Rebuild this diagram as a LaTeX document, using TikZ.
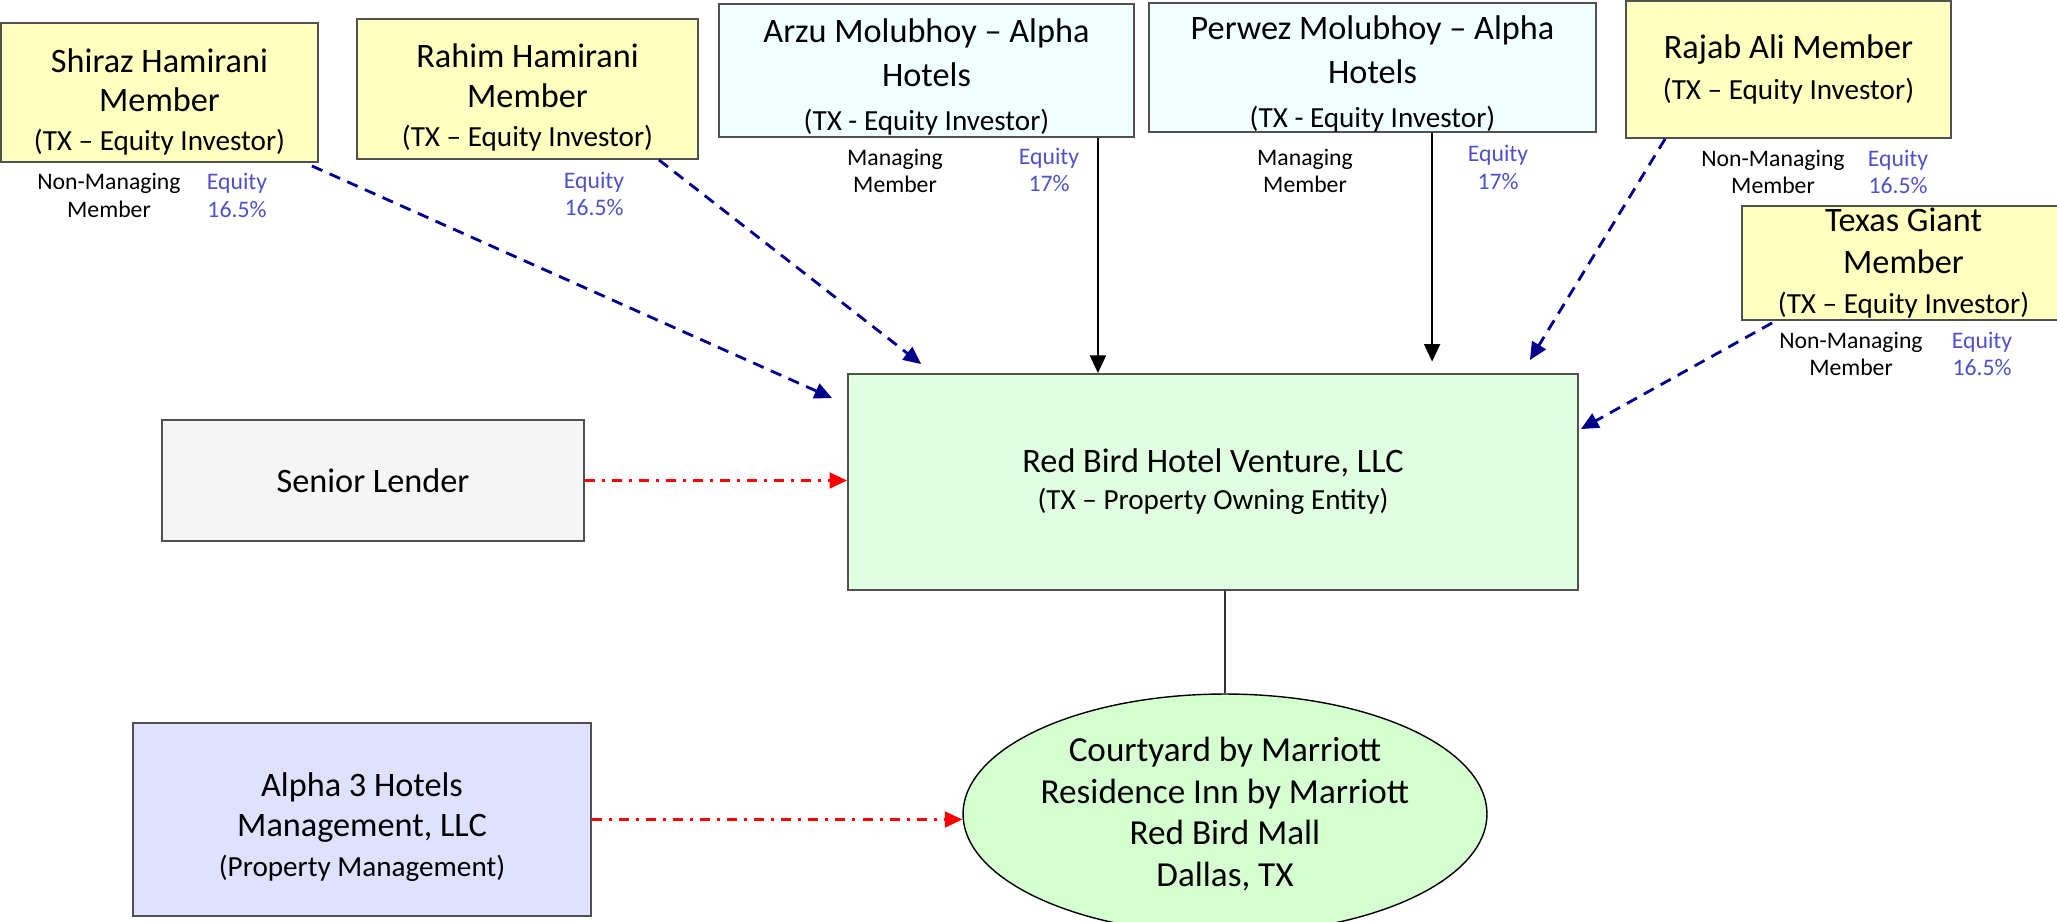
\documentclass[tikz,border=0pt]{standalone}
\usepackage{fontspec}
\setmainfont{Carlito}
\usepackage{xcolor}
\usepackage{tikz}
\usetikzlibrary{arrows.meta,calc,shapes.geometric}
\definecolor{boxline}{RGB}{80,80,80}
\definecolor{memberyellow}{RGB}{255,255,192}
\definecolor{hotelcyan}{RGB}{240,255,255}
\definecolor{ventureMint}{RGB}{224,255,224}
\definecolor{propertyMint}{RGB}{213,255,208}
\definecolor{lenderGrey}{RGB}{245,245,245}
\definecolor{managerLilac}{RGB}{224,224,255}
\definecolor{equityblue}{RGB}{80,80,200}
\definecolor{stakenavy}{RGB}{0,0,140}
\newcommand{\maintxt}{\fontsize{19.5}{23}\selectfont}
\newcommand{\subtxt}{\fontsize{16.6}{20}\selectfont}
\newcommand{\notetxt}{\fontsize{13.5}{15.6}\selectfont}
\tikzset{
    style yellow/.style={fill=memberyellow},
    style cyan/.style={fill=hotelcyan},
    style mint/.style={fill=ventureMint},
    style grey/.style={fill=lenderGrey},
    style lilac/.style={fill=managerLilac},
    entity/.style={
    draw=boxline,
    line width=1.1pt,
    align=center,
    inner sep=0pt,
    font=\maintxt,
    #1
  },
  role/.style={align=center,font=\notetxt,inner sep=0pt},
  equity/.style={role,text=equityblue},
  stake/.style={draw=stakenavy,line width=1.6pt,dash pattern=on 6.5pt off 4.5pt},
  control/.style={draw=black,line width=1.4pt},
  service/.style={draw=red,line width=1.5pt,dash pattern=on 5.7pt off 4pt on 1.7pt off 4pt}
}

\begin{document}
\begin{tikzpicture}[x=0.02cm,y=-0.02cm]
                \useasboundingbox (0,0) rectangle (2057,922);
                \begin{scope}[every node/.style={entity}]
                    \node[style yellow,minimum width=6.34cm,minimum height=2.78cm,text height=2.4cm] (shiraz) at (159.5,92.5) {Shiraz Hamirani\\[-1pt]Member\\[-1pt]{\subtxt (TX – Equity Investor)}};
                    \node[style yellow,minimum width=6.82cm,minimum height=2.80cm,text height=2.4cm] (rahim) at (527.5,89) {Rahim Hamirani\\Member\\[-1pt]{\subtxt (TX – Equity Investor)}};
                    \node[style cyan,minimum width=8.30cm,minimum height=2.66cm,text height=2.5cm] (arzu) at (926.5,70.5) {Arzu Molubhoy – Alpha\\[2pt]Hotels\\[2pt]{\subtxt (TX - Equity Investor)}};
                    \node[style cyan,minimum width=8.94cm,minimum height=2.58cm,text height=2.5cm] (perwez) at (1372.5,67.5) {Perwez Molubhoy – Alpha\\[2pt]Hotels\\[2pt]{\subtxt (TX - Equity Investor)}};
                    \node[style yellow,minimum width=6.50cm,minimum height=2.74cm] (rajab) at (1788.5,69.5) {Rajab Ali Member\\{\subtxt (TX – Equity Investor)}};
                    \node[style yellow,minimum width=6.46cm,minimum height=2.28cm] (texas) at (1903.5,263) {Texas Giant\\[1pt]Member\\{\subtxt (TX – Equity Investor)}};
                    \node[style mint,minimum width=14.60cm,minimum height=4.32cm] (redbird) at (1213,482) {Red Bird Hotel Venture, LLC\\[-2pt]{\subtxt (TX – Property Owning Entity)}};
                    \node[style grey,minimum width=8.44cm,minimum height=2.42cm] (lender) at (373,480.5) {Senior Lender};
                    \node[style lilac,minimum width=9.16cm,minimum height=3.86cm,text height=2.4cm] (manager) at (362,819.5) {Alpha 3 Hotels\\Management, LLC\\{\subtxt (Property Management)}};
                    \node[ellipse,draw=black,line width=0.8pt,fill=propertyMint,minimum width=10.48cm,minimum height=4.8cm,font=\fontsize{20}{23.7}\selectfont] (hotel) at (1225,814) {Courtyard by Marriott\\Residence Inn by Marriott\\Red Bird Mall\\Dallas, TX};
                \end{scope}
                \node[role] (shiraz-role) at (109,195.5) {Non-Managing\\Member};
                \node[equity] (shiraz-eq) at (237,195.5) {Equity\\16.5\%};
                \node[equity] (rahim-eq) at (594,194) {Equity\\16.5\%};
                \node[role] (arzu-role) at (895,171) {Managing\\Member};
                \node[equity] (arzu-eq) at (1049,170) {Equity\\17\%};
                \node[role] (perwez-role) at (1305,171) {Managing\\Member};
                \node[equity] (perwez-eq) at (1498,167.5) {Equity\\17\%};
                \node[role] (rajab-role) at (1773,172) {Non-Managing\\Member};
                \node[equity] (rajab-eq) at (1898,172) {Equity\\16.5\%};
                \node[role] (texas-role) at (1851,354) {Non-Managing\\Member};
                \node[equity] (texas-eq) at (1982,354) {Equity\\16.5\%};
                \coordinate (shiraz-out) at ($(shiraz.south east)+(-7,3)$);
                \coordinate (rahim-out) at ($(rahim.south east)+(-40,0)$);
                \coordinate (arzu-out) at ($(arzu.south east)+(-37,0)$);
                \coordinate (perwez-out) at ($(perwez.south west)+(284,0)$);
                \coordinate (rajab-out) at ($(rajab.south west)+(40,0)$);
                \coordinate (texas-out) at ($(texas.south west)+(31,2)$);
                \coordinate (rb-left) at ($(redbird.north west)+(-15,25)$);
                \coordinate (rb-top1) at ($(redbird.north west)+(74,-9)$);
                \coordinate (rb-top2) at ($(redbird.north east)+(-49,-13)$);
                \coordinate (rb-right) at ($(redbird.north east)+(2,56)$);
                \begin{scope}[>={Triangle[length=10pt,width=9pt]}]
                    \path [->] (shiraz-out) edge[stake] (rb-left);
                    \path [->] (rahim-out) edge[stake] (rb-top1);
                    \path [->] (rajab-out) edge[stake] (rb-top2);
                    \path [->] (texas-out) edge[stake] (rb-right);
                    \path [->] (arzu-out) edge[control] (arzu-out |- redbird.north);
                    \path [->] (perwez-out) edge[control,shorten >=6.5pt] (perwez-out |- redbird.north);
                    \path [->] (lender.east) edge[service] (lender.east -| redbird.west);
                    \path [->] (manager.east) edge[service] (manager.east -| hotel.west);
                    \draw [line width=0.8pt,draw=black!80] (redbird.south -| hotel.north) -- (hotel.north);
                \end{scope}
            \end{tikzpicture}
\end{document}
